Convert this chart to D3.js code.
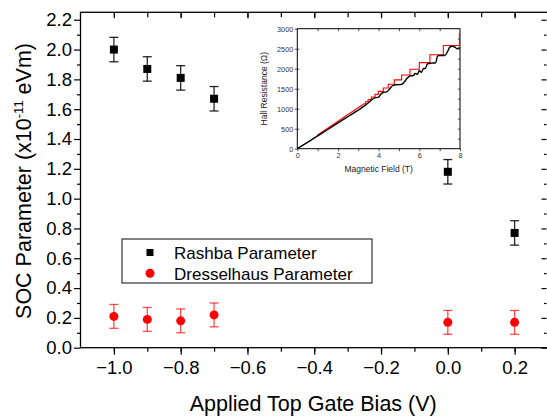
<!DOCTYPE html>
<html>
<head>
<meta charset="utf-8">
<script src="https://cdn.jsdelivr.net/npm/d3@7"></script>
<style>
	body { margin: 0; background: #fff; }
	svg { display: block; font-family: "Liberation Sans", Arial, sans-serif; }
</style>
</head>
<body>
<svg id="chart" width="547" height="419"></svg>
<script>
// main chart data
var gateBias = [-1.0, -0.9, -0.8, -0.7, 0.0, 0.2];
var rashba = [2.00, 1.87, 1.81, 1.67, 1.18, 0.77];
var rashbaErr = [0.082, 0.082, 0.082, 0.082, 0.082, 0.082];
var dresselhaus = [0.21, 0.19, 0.18, 0.22, 0.17, 0.17];
var dresselErr = [0.08, 0.08, 0.08, 0.08, 0.08, 0.08];
var xTicks = [-1.0, -0.8, -0.6, -0.4, -0.2, 0.0, 0.2];
var yTicks = [0.0, 0.2, 0.4, 0.6, 0.8, 1.0, 1.2, 1.4, 1.6, 1.8, 2.0, 2.2];

// inset data (Hall resistance vs field)
var blackB = [0, 0.5, 1.0, 1.5, 2.0, 2.5, 3.0, 3.3, 3.5, 3.7, 3.85, 4.0, 4.1, 4.25, 4.4, 4.55, 4.7, 4.85, 5.1, 5.25, 5.4, 5.55, 5.7, 5.8, 5.9, 6.0, 6.1, 6.2, 6.3, 6.4, 6.6, 6.8, 6.9, 7.0, 7.25, 7.4, 7.5, 7.6, 7.75, 7.85, 7.95, 8.0];
var blackR = [0, 160, 320, 480, 645, 805, 965, 1070, 1150, 1240, 1275, 1290, 1360, 1410, 1420, 1500, 1580, 1600, 1605, 1660, 1760, 1820, 1830, 1880, 1860, 1950, 1910, 2000, 2010, 2120, 2140, 2150, 2320, 2330, 2330, 2440, 2540, 2560, 2540, 2500, 2520, 2510];
var redRampB = [0.98, 3.28];
var redRampR = [335, 1122];
var redStepB = [3.28, 3.36, 3.48, 3.64, 3.82, 3.98, 4.23, 4.47, 4.77, 5.13, 5.54, 6.0, 6.52, 7.18, 7.97, 8.0];
var redStepR = [1122, 1173, 1229, 1291, 1359, 1434, 1518, 1613, 1721, 1844, 1986, 2151, 2347, 2581, 2880, 2880];

var plot = { left: 80.5, right: 548, top: 12.3, bottom: 347.7 };
var inset = { left: 297.3, right: 460, top: 28.7, bottom: 148.7 };

var svg = d3.select('#chart');

var x = d3.scaleLinear().domain([-1.1, 0.3]).range([plot.left, plot.right]);
var y = d3.scaleLinear().domain([0, 2.25]).range([plot.bottom, plot.top]);

var fmt = d3.format('.1f');
var minorX = d3.range(-1.0, 0.31, 0.1).map(function(d) { return +d.toFixed(1); });
var minorY = d3.range(0.1, 2.25, 0.2).map(function(d) { return +d.toFixed(1); });

// frame
svg.append('rect')
	.attr('x', plot.left).attr('y', plot.top)
	.attr('width', plot.right - plot.left).attr('height', plot.bottom - plot.top)
	.attr('fill', 'none').attr('stroke', '#000').attr('stroke-width', 1.3);

function styleAxis(g) {
	g.select('.domain').remove();
	g.selectAll('.tick line').attr('stroke', '#000').attr('stroke-width', 1.2);
}

// bottom axis
svg.append('g')
	.attr('transform', 'translate(0,' + plot.bottom + ')')
	.call(d3.axisBottom(x).tickValues(minorX).tickSize(4).tickFormat(''))
	.call(styleAxis);
svg.append('g')
	.attr('transform', 'translate(0,' + plot.bottom + ')')
	.call(d3.axisBottom(x).tickValues(xTicks).tickSize(7).tickPadding(6).tickFormat(fmt))
	.call(styleAxis)
	.selectAll('text').attr('font-size', '18.5px').attr('fill', '#000')
	.attr('font-family', '"Liberation Sans", Arial, sans-serif');

// top axis (inward)
svg.append('g')
	.attr('transform', 'translate(0,' + plot.top + ')')
	.call(d3.axisBottom(x).tickValues(minorX).tickSize(5).tickFormat(''))
	.call(styleAxis);
svg.append('g')
	.attr('transform', 'translate(0,' + plot.top + ')')
	.call(d3.axisBottom(x).tickValues(xTicks).tickSize(6).tickFormat(''))
	.call(styleAxis);

// left axis
svg.append('g')
	.attr('transform', 'translate(' + plot.left + ',0)')
	.call(d3.axisLeft(y).tickValues(minorY).tickSize(3.5).tickFormat(''))
	.call(styleAxis);
svg.append('g')
	.attr('transform', 'translate(' + plot.left + ',0)')
	.call(d3.axisLeft(y).tickValues(yTicks).tickSize(6.5).tickPadding(2).tickFormat(fmt))
	.call(styleAxis)
	.selectAll('text').attr('font-size', '18.5px').attr('fill', '#000')
	.attr('font-family', '"Liberation Sans", Arial, sans-serif');

// right axis (inward)
svg.append('g')
	.attr('transform', 'translate(' + (plot.right - 1.5) + ',0)')
	.call(d3.axisLeft(y).tickValues(minorY).tickSize(2.5).tickFormat(''))
	.call(styleAxis);
svg.append('g')
	.attr('transform', 'translate(' + (plot.right - 1.5) + ',0)')
	.call(d3.axisLeft(y).tickValues(yTicks).tickSize(5).tickFormat(''))
	.call(styleAxis);

// axis titles
svg.append('text')
	.attr('x', (plot.left + plot.right) / 2 - 1)
	.attr('y', 410.5)
	.attr('text-anchor', 'middle')
	.attr('font-size', '21.5px')
	.text('Applied Top Gate Bias (V)');

var yTitle = svg.append('text')
	.attr('transform', 'translate(31,181) rotate(-90)')
	.attr('text-anchor', 'middle')
	.attr('font-size', '21.5px');
yTitle.append('tspan').text('SOC Parameter (x10');
yTitle.append('tspan').attr('font-size', '13px').attr('dy', '-8').text('-11');
yTitle.append('tspan').attr('dy', '8').text(' eVm)');

// error bars + markers
function errorBars(vals, errs, color, opacity) {
	var g = svg.append('g').attr('stroke', color).attr('stroke-width', 1.3).attr('stroke-opacity', opacity);
	gateBias.forEach(function(b, i) {
		var cx = x(b);
		g.append('line').attr('x1', cx).attr('x2', cx)
			.attr('y1', y(vals[i] - errs[i])).attr('y2', y(vals[i] + errs[i]));
		g.append('line').attr('x1', cx - 4.5).attr('x2', cx + 4.5)
			.attr('y1', y(vals[i] + errs[i])).attr('y2', y(vals[i] + errs[i]));
		g.append('line').attr('x1', cx - 4.5).attr('x2', cx + 4.5)
			.attr('y1', y(vals[i] - errs[i])).attr('y2', y(vals[i] - errs[i]));
	});
}
errorBars(rashba, rashbaErr, '#000', 0.85);
errorBars(dresselhaus, dresselErr, '#f00', 0.7);

svg.append('g').selectAll('rect')
	.data(gateBias)
	.enter().append('rect')
	.attr('x', function(d) { return x(d) - 4; })
	.attr('y', function(d, i) { return y(rashba[i]) - 4; })
	.attr('width', 8).attr('height', 8)
	.attr('fill', '#000');

svg.append('g').selectAll('circle')
	.data(gateBias)
	.enter().append('circle')
	.attr('cx', function(d) { return x(d); })
	.attr('cy', function(d, i) { return y(dresselhaus[i]); })
	.attr('r', 4.5)
	.attr('fill', '#f00');

// legend
var legend = svg.append('g');
legend.append('rect')
	.attr('x', 122).attr('y', 239).attr('width', 250).attr('height', 44)
	.attr('fill', '#fff').attr('stroke', '#333').attr('stroke-width', 1.2);
legend.append('rect').attr('x', 146.5).attr('y', 249).attr('width', 7).attr('height', 7).attr('fill', '#000');
legend.append('circle').attr('cx', 150).attr('cy', 273.3).attr('r', 4.5).attr('fill', '#f00');
legend.append('text').attr('x', 174).attr('y', 258.5).attr('font-size', '17px').text('Rashba Parameter');
legend.append('text').attr('x', 174).attr('y', 279.5).attr('font-size', '17px').text('Dresselhaus Parameter');

// inset
var xi = d3.scaleLinear().domain([0, 8]).range([inset.left, inset.right]);
var yi = d3.scaleLinear().domain([0, 3000]).range([inset.bottom, inset.top]);
var ins = svg.append('g');

ins.append('rect')
	.attr('x', inset.left).attr('y', inset.top)
	.attr('width', inset.right - inset.left).attr('height', inset.bottom - inset.top)
	.attr('fill', '#fff').attr('stroke', '#000').attr('stroke-width', 1);

function styleInset(g) {
	g.select('.domain').remove();
	g.selectAll('.tick line').attr('stroke', '#222').attr('stroke-width', 0.8);
	g.selectAll('text').attr('font-size', '7.3px').attr('fill', '#333')
		.attr('font-family', '"Liberation Sans", Arial, sans-serif');
}

ins.append('g')
	.attr('transform', 'translate(0,' + inset.bottom + ')')
	.call(d3.axisBottom(xi).tickValues([0, 1, 2, 3, 4, 5, 6, 7, 8]).tickSize(2.5).tickPadding(1.5)
		.tickFormat(function(d) { return d % 2 === 0 ? d : ''; }))
	.call(styleInset);
ins.append('g')
	.attr('transform', 'translate(0,' + inset.top + ')')
	.call(d3.axisBottom(xi).tickValues([1, 2, 3, 4, 5, 6, 7]).tickSize(2.5).tickFormat(''))
	.call(styleInset);
ins.append('g')
	.attr('transform', 'translate(' + inset.left + ',0)')
	.call(d3.axisLeft(yi).tickValues(d3.range(0, 3001, 500)).tickSize(2.5).tickPadding(1.5).tickFormat(d3.format('d')))
	.call(styleInset);
ins.append('g')
	.attr('transform', 'translate(' + inset.left + ',0)')
	.call(d3.axisRight(yi).tickValues(d3.range(500, 3000, 500)).tickSize(2).tickFormat(''))
	.call(styleInset);
ins.append('g')
	.attr('transform', 'translate(' + inset.right + ',0)')
	.call(d3.axisLeft(yi).tickValues(d3.range(250, 3000, 250)).tickSize(2).tickFormat(''))
	.call(styleInset);

ins.append('text')
	.attr('x', (inset.left + inset.right) / 2)
	.attr('y', 172)
	.attr('text-anchor', 'middle')
	.attr('font-size', '8.5px')
	.attr('fill', '#222')
	.text('Magnetic Field (T)');
ins.append('text')
	.attr('transform', 'translate(267,' + ((inset.top + inset.bottom) / 2) + ') rotate(-90)')
	.attr('text-anchor', 'middle')
	.attr('font-size', '8.5px')
	.attr('fill', '#222')
	.text('Hall Resistance (\u03A9)');

var lineI = d3.line()
	.x(function(d) { return xi(d[0]); })
	.y(function(d) { return yi(d[1]); });

ins.append('path')
	.datum(redRampB.map(function(b, i) { return [b, redRampR[i]]; }))
	.attr('d', lineI)
	.attr('fill', 'none').attr('stroke', '#f00').attr('stroke-width', 1.1);
ins.append('path')
	.datum(redStepB.map(function(b, i) { return [b, redStepR[i]]; }))
	.attr('d', lineI.curve(d3.curveStepAfter))
	.attr('fill', 'none').attr('stroke', '#f00').attr('stroke-width', 1.1);

ins.append('path')
	.datum(blackB.map(function(b, i) { return [b, blackR[i]]; }))
	.attr('d', d3.line().x(function(d) { return xi(d[0]); }).y(function(d) { return yi(d[1]); }).curve(d3.curveMonotoneX))
	.attr('fill', 'none').attr('stroke', '#000').attr('stroke-width', 1.4);
</script>
</body>
</html>
